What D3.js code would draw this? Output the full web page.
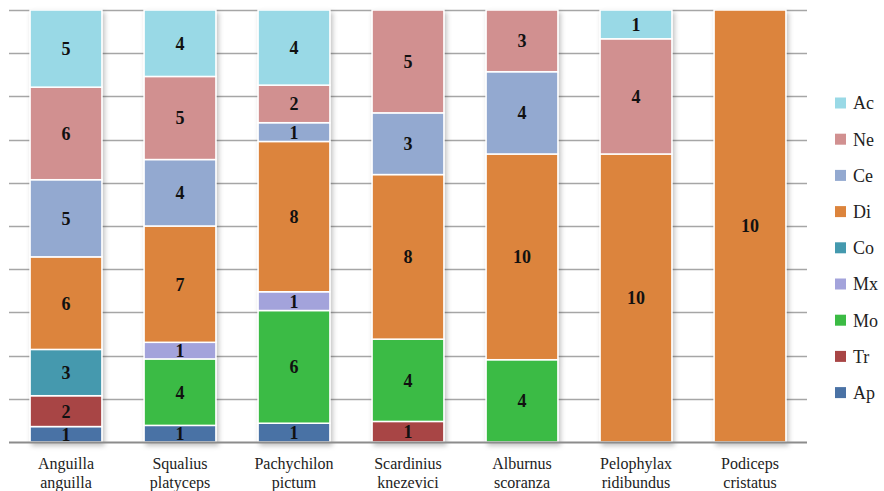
<!DOCTYPE html>
<html><head><meta charset="utf-8">
<script src="https://cdn.jsdelivr.net/npm/d3@7"></script>
<style>body{margin:0;background:#fff}svg{display:block}</style>
</head><body>
<svg id="chart" width="884" height="491"></svg>
<script>
const categories = [["Anguilla","anguilla"],["Squalius","platyceps"],["Pachychilon","pictum"],["Scardinius","knezevici"],["Alburnus","scoranza"],["Pelophylax","ridibundus"],["Podiceps","cristatus"]];
const seriesKeys = ["Ap","Tr","Mo","Mx","Co","Di","Ce","Ne","Ac"];
const Ap = [1,1,1,0,0,0,0];
const Tr = [2,0,0,1,0,0,0];
const Mo = [0,4,6,4,4,0,0];
const Mx = [0,1,1,0,0,0,0];
const Co = [3,0,0,0,0,0,0];
const Di = [6,7,8,8,10,10,10];
const Ce = [5,4,1,3,4,0,0];
const Ne = [6,5,2,5,3,4,0];
const Ac = [5,4,4,0,0,1,0];
const seriesValues = {Ap,Tr,Mo,Mx,Co,Di,Ce,Ne,Ac};
const colors = {Ap:"#4a72a5",Tr:"#a84545",Mo:"#3bbb44",Mx:"#a3a3db",Co:"#4499ae",Di:"#dc843c",Ce:"#93a9d0",Ne:"#d19090",Ac:"#99d9e6"};
const yTicks = d3.range(0, 1.0001, 0.1);
const SERIF = '"Liberation Serif"';

const svg = d3.select("#chart");
const m = {left:9, right:807, top:10, bottom:442};
const x = d3.scaleBand().domain(d3.range(categories.length)).range([m.left, m.right]).paddingInner(0.37).paddingOuter(0.185);
const y = d3.scaleLinear().domain([0,1]).range([m.bottom, m.top]);

const defs = svg.append("defs");
const f = defs.append("filter").attr("id","sh").attr("x","-20%").attr("y","-20%").attr("width","140%").attr("height","140%");
f.append("feDropShadow").attr("dx",2).attr("dy",3).attr("stdDeviation",2.5).attr("flood-color","#000").attr("flood-opacity",0.25);

// gridlines
svg.append("g").selectAll("line").data(yTicks.slice(1)).join("line")
  .attr("x1",m.left).attr("x2",m.right).attr("y1",d=>Math.round(y(d))+0.5).attr("y2",d=>Math.round(y(d))+0.5)
  .attr("stroke","#a6a6a6").attr("stroke-width",1.5);

const rows = categories.map((c,i)=>{const o={}; seriesKeys.forEach(k=>o[k]=seriesValues[k][i]); return o;});
const stacked = d3.stack().keys(seriesKeys).offset(d3.stackOffsetExpand)(rows);

const g = svg.append("g");
categories.forEach((c,i)=>{
  const bg = g.append("g").attr("filter","url(#sh)");
  stacked.forEach(s=>{
    const d = s[i];
    if (rows[i][s.key] <= 0) return;
    bg.append("rect").attr("x",x(i)).attr("width",x.bandwidth())
      .attr("y",y(d[1])).attr("height",y(d[0])-y(d[1]))
      .attr("fill",colors[s.key]).attr("stroke","#fff").attr("stroke-width",1.5);
  });
});
// value labels
categories.forEach((c,i)=>{
  stacked.forEach(s=>{
    const d = s[i];
    const v = rows[i][s.key];
    if (v <= 0) return;
    g.append("text").attr("x",x(i)+x.bandwidth()/2).attr("y",(y(d[0])+y(d[1]))/2)
      .attr("text-anchor","middle").attr("dy","0.36em")
      .style("font-family",SERIF).style("font-weight","bold").style("font-size","18px")
      .attr("fill","#111").text(v);
  });
});

// baseline
svg.append("line").attr("x1",m.left).attr("x2",m.right).attr("y1",m.bottom+0.5).attr("y2",m.bottom+0.5)
  .attr("stroke","#8c8c8c").attr("stroke-width",2);

// category labels
const xl = svg.append("g");
categories.forEach((c,i)=>{
  const t = xl.append("text").attr("x",x(i)+x.bandwidth()/2).attr("y",469)
    .attr("text-anchor","middle").style("font-family",SERIF).style("font-size","16px").attr("fill","#222");
  t.append("tspan").attr("x",x(i)+x.bandwidth()/2).attr("dy",0).text(c[0]);
  t.append("tspan").attr("x",x(i)+x.bandwidth()/2).attr("dy",19).text(c[1]);
});

// legend
const legendKeys = seriesKeys.slice().reverse();
const lg = svg.append("g");
legendKeys.forEach((k,j)=>{
  const cy = 103 + j*36.2;
  lg.append("rect").attr("x",835).attr("y",cy-5.5).attr("width",11).attr("height",11).attr("fill",colors[k]);
  lg.append("text").attr("x",853).attr("y",cy).attr("dy","0.36em")
    .style("font-family",SERIF).style("font-size","18px").attr("fill","#222").text(k);
});
</script>
</body></html>
